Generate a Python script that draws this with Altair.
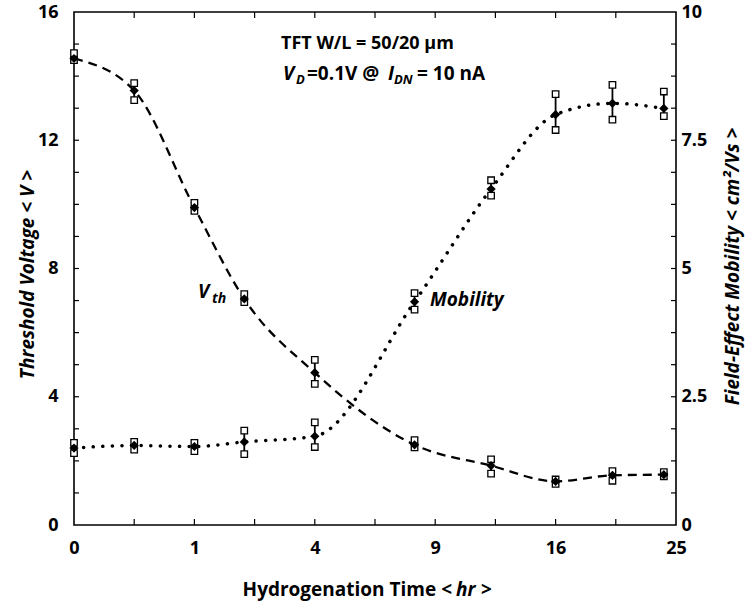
import altair as alt
import pandas as pd

# ---- data ----
hours = [0, 0.25, 1, 2, 4, 8, 12, 16, 20, 24]
vth_mean = [14.55, 13.55, 9.9, 7.05, 4.75, 2.5, 1.85, 1.36, 1.55, 1.57]
vth_hi = [14.72, 13.78, 10.05, 7.2, 5.15, 2.65, 2.05, 1.42, 1.68, 1.65]
vth_lo = [14.5, 13.25, 9.8, 6.95, 4.4, 2.42, 1.6, 1.28, 1.38, 1.52]
mob_mean = [1.5, 1.55, 1.53, 1.62, 1.73, 4.35, 6.55, 8.0, 8.22, 8.12]
mob_hi = [1.6, 1.62, 1.6, 1.84, 2.0, 4.52, 6.72, 8.4, 8.58, 8.45]
mob_lo = [1.4, 1.47, 1.44, 1.38, 1.52, 4.2, 6.42, 7.7, 7.9, 7.97]

x_labels = [0, 1, 4, 9, 16, 25]
x_minor = [0.25, 1, 2.25, 4, 6.25, 9, 12.25, 16, 20.25]
vth_labels = [0, 4, 8, 12, 16]
vth_minor = list(range(1, 16))
mob_labels = [0, 2.5, 5, 7.5, 10]
mob_minor = [0.625 * i for i in range(1, 16)]

df = pd.DataFrame({
    "t": hours,
    "vth": vth_mean, "vth_hi": vth_hi, "vth_lo": vth_lo,
    "mob": mob_mean, "mob_hi": mob_hi, "mob_lo": mob_lo,
})

FONT = "Open Sans"
W, H = 602, 513
LBL = 18
TTL = 19

x_scale = alt.Scale(type="sqrt", domain=[0, 25])
x_axis = alt.Axis(values=x_labels, title=None, labelFont=FONT, labelFontSize=LBL,
                  labelFontWeight="bold", labelColor="black", ticks=False,
                  domain=False, grid=False, labelPadding=14, labelFlush=False)


def X(field="t"):
    return alt.X(f"{field}:Q", scale=x_scale, axis=x_axis)


vth_scale = alt.Scale(domain=[0, 16])
vth_axis = alt.Axis(orient="left", values=vth_labels, title="Threshold Voltage < V >",
                    labelFont=FONT, labelFontSize=LBL, labelFontWeight="bold",
                    labelColor="black", ticks=False, domain=False, grid=False,
                    labelPadding=16, titleFont=FONT, titleFontSize=TTL,
                    titleFontWeight="bold", titleFontStyle="italic", titleColor="black",
                    titleAngle=270, titleX=-47, titleY=262, titleAlign="center",
                    titleBaseline="middle")
mob_scale = alt.Scale(domain=[0, 10])
mob_axis = alt.Axis(orient="right", values=mob_labels, format=".1~f",
                    title="Field-Effect Mobility < cm\u00b2/Vs >",
                    labelFont=FONT, labelFontSize=LBL, labelFontWeight="bold",
                    labelColor="black", ticks=False, domain=False, grid=False,
                    labelPadding=5, titleFont=FONT, titleFontSize=TTL,
                    titleFontWeight="bold", titleFontStyle="italic", titleColor="black",
                    titleAngle=270, titleX=56, titleY=254, titleAlign="center",
                    titleBaseline="middle")


def VY(field):
    return alt.Y(f"{field}:Q", scale=vth_scale, axis=vth_axis)


def MY(field):
    return alt.Y(f"{field}:Q", scale=mob_scale, axis=mob_axis)


base = alt.Chart(df)


def series(Yf, mean, lo, hi, dash, width, cap):
    line = base.mark_line(color="black", strokeWidth=width, strokeDash=dash,
                          strokeCap=cap, interpolate="monotone").encode(x=X(), y=Yf(mean))
    bars = base.mark_rule(color="black", strokeWidth=1.8).encode(
        x=X(), y=Yf(lo), y2=alt.Y2(hi))
    sq_lo = base.mark_point(shape="square", size=42, filled=True, fill="white",
                            stroke="black", strokeWidth=1.3, opacity=1).encode(x=X(), y=Yf(lo))
    sq_hi = base.mark_point(shape="square", size=42, filled=True, fill="white",
                            stroke="black", strokeWidth=1.3, opacity=1).encode(x=X(), y=Yf(hi))
    pts = base.mark_point(shape="diamond", size=85, filled=True, color="black",
                          opacity=1).encode(x=X(), y=Yf(mean))
    return [line, bars, sq_lo, sq_hi, pts]


vth_layers = series(VY, "vth", "vth_lo", "vth_hi", [9, 6], 2.3, "butt")
mob_layers = series(MY, "mob", "mob_lo", "mob_hi", [0.1, 9.5], 3.5, "round")

vth_ticks = alt.Chart(pd.DataFrame({"v": vth_minor})).mark_rule(
    color="black", strokeWidth=1.2).encode(y=VY("v"), x=alt.value(0), x2=alt.value(5))
mob_ticks = alt.Chart(pd.DataFrame({"v": mob_minor})).mark_rule(
    color="black", strokeWidth=1.2).encode(y=MY("v"), x=alt.value(W - 5), x2=alt.value(W))

vth_group = alt.layer(*vth_layers, vth_ticks)
mob_group = alt.layer(*mob_layers, mob_ticks)

xt = pd.DataFrame({"t": x_minor})
x_ticks_bottom = alt.Chart(xt).mark_rule(color="black", strokeWidth=1.2).encode(
    x=X(), y=alt.value(H - 6), y2=alt.value(H))
x_ticks_top = alt.Chart(xt).mark_rule(color="black", strokeWidth=1.2).encode(
    x=X(), y=alt.value(0), y2=alt.value(6))


def note(text, x, y, size=19, style="normal", align="left"):
    return alt.Chart(pd.DataFrame({"label": [text]})).mark_text(
        font=FONT, fontWeight="bold", fontStyle=style, fontSize=size, align=align,
        baseline="middle", color="black").encode(
        x=alt.value(x), y=alt.value(y), text="label:N")


notes = [
    note("TFT W/L = 50/20 \u03bcm", 207, 32, 18),
    note("V", 209, 62, 19, "italic"),
    note("D", 222, 68, 13, "italic"),
    note("=0.1V @", 233, 62, 19),
    note("I", 314, 62, 19, "italic"),
    note("DN", 320, 68, 13, "italic"),
    note("= 10 nA", 343, 62, 19),
    note("V", 124, 280, 19, "italic"),
    note("th", 138, 287, 14, "italic"),
    note("Mobility", 356, 288, 19, "italic"),
    note("Hydrogenation Time <", 378, 578, TTL, "normal", "right"),
    note("hr", 382, 578, TTL, "italic"),
    note(">", 407, 578, TTL),
]

chart = alt.layer(vth_group, mob_group, x_ticks_bottom, x_ticks_top, *notes).resolve_scale(
    y="independent"
).properties(
    width=W, height=H,
    autosize=alt.AutoSizeParams(type="none"),
    padding={"left": 74, "top": 12, "right": 70, "bottom": 82},
    background="white",
).configure_view(stroke="black", strokeWidth=1.6)

chart.save("out.html", embed_options={"renderer": "svg", "actions": False})
